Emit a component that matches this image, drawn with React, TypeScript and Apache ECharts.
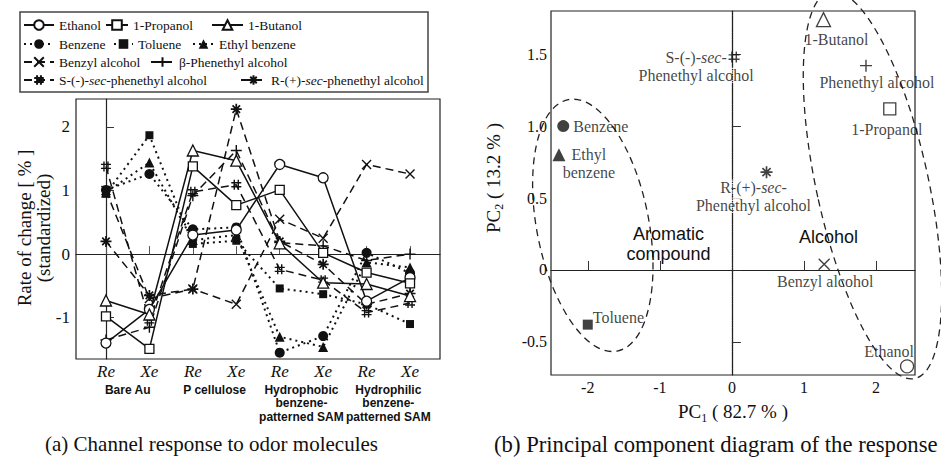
import React, { useEffect, useRef } from 'react';
import * as echarts from 'echarts';

const SERIF = "'Liberation Serif', 'Times New Roman', serif";
const SANS = "'Liberation Sans', Arial, sans-serif";
const INK = '#111';

// ---------- (a) Channel response data ----------
const channelLabels = ['Re', 'Xe', 'Re', 'Xe', 'Re', 'Xe', 'Re', 'Xe'];
const surfaceGroups = [
  'Bare Au',
  'P cellulose',
  'Hydrophobic\nbenzene-\npatterned SAM',
  'Hydrophilic\nbenzene-\npatterned SAM',
];
const rateTicks = [-1, 0, 1, 2];

const ethanol = [-1.4, -0.87, 0.3, 0.38, 1.41, 1.2, -0.74, -0.37];
const propanol = [-0.98, -1.49, 1.38, 0.77, 1.01, 0.02, -0.29, -0.46];
const butanol = [-0.73, -0.95, 1.63, 1.47, 0.17, -0.45, -0.47, -0.66];
const benzene = [1.01, 1.26, 0.39, 0.42, -1.55, -1.29, 0.02, -0.3];
const toluene = [0.95, 1.87, 0.16, 0.21, -0.54, -0.63, -0.79, -1.1];
const ethylBenzene = [0.97, 1.44, 0.22, 0.3, -1.3, -1.46, -0.13, -0.21];
const benzylAlcohol = [1.0, -0.7, -0.55, -0.79, 0.55, 0.25, 1.41, 1.26];
const betaPhenethyl = [-1.35, -1.15, 0.92, 1.63, 0.18, 0.13, -0.1, 0.0];
const sSecPhenethyl = [1.38, -1.05, 0.98, 1.09, -0.24, -0.41, -0.92, -0.77];
const rSecPhenethyl = [0.2, -0.65, -0.55, 2.28, 0.2, -0.16, -0.79, -0.62];

const seriesNames = [
  'Ethanol',
  '1-Propanol',
  '1-Butanol',
  'Benzene',
  'Toluene',
  'Ethyl benzene',
  'Benzyl alcohol',
  'β-Phenethyl alcohol',
  'S-(-)-sec-phenethyl alcohol',
  'R-(+)-sec-phenethyl alcohol',
];
const seriesValues = [
  ethanol,
  propanol,
  butanol,
  benzene,
  toluene,
  ethylBenzene,
  benzylAlcohol,
  betaPhenethyl,
  sSecPhenethyl,
  rSecPhenethyl,
];

// ---------- (b) PCA data ----------
const pcaNames = [
  'Ethanol',
  '1-Propanol',
  '1-Butanol',
  'Benzene',
  'Toluene',
  'Ethyl benzene',
  'Benzyl alcohol',
  'Phenethyl alcohol',
  'S-(-)-sec-Phenethyl alcohol',
  'R-(+)-sec-Phenethyl alcohol',
];
const pc1 = [2.43, 2.19, 1.27, -2.34, -2.0, -2.4, 1.28, 1.86, 0.03, 0.48];
const pc2 = [-0.67, 1.12, 1.74, 1.0, -0.38, 0.8, 0.04, 1.42, 1.48, 0.68];
const pcaLabels = [
  'Ethanol',
  '1-Propanol',
  '1-Butanol',
  'Benzene',
  'Toluene',
  'Ethyl\nbenzene',
  'Benzyl alcohol',
  'Phenethyl alcohol',
  'S-(-)-{i|sec}-\n{w|Phenethyl alcohol}',
  '{w|R-(+)-}{wi|sec}{w|-}\n{w|Phenethyl alcohol}',
];
const pcaTicksX = [-2, -1, 0, 1, 2];
const pcaTicksY = [-0.5, 0, 0.5, 1, 1.5];
const clusterNames = ['Aromatic\ncompound', 'Alcohol'];
const clusterLabelPc1 = [-0.88, 1.34];
const clusterLabelPc2 = [0.18, 0.23];
const clusterCenterPc1 = [-1.93, 1.95];
const clusterCenterPc2 = [0.31, 0.59];

// ---------- styles ----------
const P_X = 'path://M0,0L10,10M10,0L0,10';
const P_PLUS = 'path://M5,0L5,10M0,5L10,5';
const P_HASH = 'path://M3,0L3,10M7,0L7,10M0,3L10,3M0,7L10,7';
const P_STAR = 'path://M5,0L5,10M0,5L10,5M1.6,1.6L8.4,8.4M8.4,1.6L1.6,8.4';

type Look = { symbol: string; size: number; open: boolean; line: string; stroke: boolean };
const looks: Look[] = [
  { symbol: 'circle', size: 10, open: true, line: 'solid', stroke: false },
  { symbol: 'rect', size: 9, open: true, line: 'solid', stroke: false },
  { symbol: 'triangle', size: 11, open: true, line: 'solid', stroke: false },
  { symbol: 'circle', size: 10, open: false, line: 'dotted', stroke: false },
  { symbol: 'rect', size: 8, open: false, line: 'dotted', stroke: false },
  { symbol: 'triangle', size: 10, open: false, line: 'dotted', stroke: false },
  { symbol: P_X, size: 9, open: false, line: 'dashed', stroke: true },
  { symbol: P_PLUS, size: 11, open: false, line: 'dashed', stroke: true },
  { symbol: P_HASH, size: 10, open: false, line: 'dashed', stroke: true },
  { symbol: P_STAR, size: 11, open: false, line: 'dashed', stroke: true },
];
// [left, centerY, iconWidth]
const legendSlots = [
  [23, 24, 30],
  [105, 24, 22],
  [211, 24, 31],
  [23, 43, 30],
  [113, 43, 19],
  [192, 43, 21],
  [23, 61, 30],
  [150, 61, 23],
  [23, 79, 30],
  [240, 79, 25],
];

const pcaLooks: Look[] = [
  { symbol: 'circle', size: 13, open: true, line: '', stroke: false },
  { symbol: 'rect', size: 12, open: true, line: '', stroke: false },
  { symbol: 'triangle', size: 14, open: true, line: '', stroke: false },
  { symbol: 'circle', size: 12, open: false, line: '', stroke: false },
  { symbol: 'rect', size: 10, open: false, line: '', stroke: false },
  { symbol: 'triangle', size: 13, open: false, line: '', stroke: false },
  { symbol: P_X, size: 11, open: false, line: '', stroke: true },
  { symbol: P_PLUS, size: 12, open: false, line: '', stroke: true },
  { symbol: P_HASH, size: 11, open: false, line: '', stroke: true },
  { symbol: P_STAR, size: 12, open: false, line: '', stroke: true },
];
const pcaLabelOffsets = [
  [-18, -15],
  [-3, 21],
  [13, 20],
  [10, 0],
  [5, -7],
  [30, 9],
  [1, 17],
  [11, 17],
  [-38, 9],
  [-13, 24],
];
const pcaLabelAlign = ['center', 'center', 'center', 'left', 'left', 'center', 'center', 'center', 'center', 'center'];

const ellipseRadii = [
  [56, 128],
  [56, 198],
];
const ellipseRotation = [0.192, 0.216];

function markerStyle(l: Look) {
  return {
    color: l.open ? '#fff' : INK,
    borderColor: INK,
    borderWidth: l.open ? 1.3 : l.stroke ? (l.symbol === P_STAR ? 1.7 : 1.4) : 0,
  };
}

function lineType(t: string): any {
  if (t === 'dotted') return [2, 4];
  if (t === 'dashed') return [8, 5];
  return 'solid';
}

const LEGEND_FONT = 13.5;
const richSec = {
  i: { fontFamily: SERIF, fontSize: LEGEND_FONT, fontStyle: 'italic', color: INK },
};

function buildOption(): any {
  const lineSeries = seriesNames.map((name, k) => {
    const l = looks[k];
    return {
      type: 'line',
      name,
      xAxisIndex: 0,
      yAxisIndex: 0,
      data: seriesValues[k].map((v, i) => [i, v]),
      symbol: l.symbol,
      symbolSize: l.size,
      showAllSymbol: true,
      lineStyle: { color: INK, width: l.line === 'dotted' ? 2 : 1.5, type: lineType(l.line) },
      itemStyle: markerStyle(l),
      z: 2 + (l.open ? 1 : 0),
    };
  });

  const legends = seriesNames.map((name, k) => ({
    data: [name],
    left: legendSlots[k][0],
    top: legendSlots[k][1] - 6,
    itemWidth: legendSlots[k][2],
    itemHeight: 12,
    itemGap: 0,
    padding: 0,
    selectedMode: false,
    formatter: (n: string) => n.replace('sec', '{i|sec}'),
    textStyle: { fontFamily: SERIF, fontSize: LEGEND_FONT, color: INK, rich: richSec },
  }));

  const scatter = {
    type: 'scatter',
    xAxisIndex: 2,
    yAxisIndex: 1,
    data: pcaNames.map((name, i) => {
      const l = pcaLooks[i];
      return {
        name,
        value: [pc1[i], pc2[i]],
        symbol: l.symbol,
        symbolSize: l.size,
        itemStyle: markerStyle(l),
        label: {
          show: true,
          position: 'inside',
          offset: pcaLabelOffsets[i],
          align: pcaLabelAlign[i],
          verticalAlign: 'middle',
        },
      };
    }),
    label: {
      show: true,
      formatter: (p: any) => pcaLabels[p.dataIndex],
      fontFamily: SERIF,
      fontSize: 16,
      lineHeight: 18,
      color: INK,
      rich: {
        i: { fontFamily: SERIF, fontSize: 16, fontStyle: 'italic', color: INK, lineHeight: 18 },
        w: { fontFamily: SERIF, fontSize: 16, color: INK, backgroundColor: '#fff', lineHeight: 18 },
        wi: {
          fontFamily: SERIF,
          fontSize: 16,
          fontStyle: 'italic',
          color: INK,
          backgroundColor: '#fff',
          lineHeight: 18,
        },
      },
    },
    markLine: {
      silent: true,
      symbol: ['none', 'none'],
      label: { show: false },
      lineStyle: { type: 'dotted', color: '#222', width: 1.2 },
      data: [{ xAxis: 0 }, { yAxis: 0 }],
    },
    z: 3,
  };

  const axisLineStyle = { show: true, lineStyle: { color: '#222', width: 1.2 } };

  return {
    animation: false,
    backgroundColor: '#fff',
    legend: legends,
    grid: [
      { left: 76, top: 99, width: 364, height: 260, show: true, borderColor: '#222', borderWidth: 1.2 },
      { left: 551, top: 11, width: 364, height: 364, show: true, borderColor: '#222', borderWidth: 1.2 },
    ],
    xAxis: [
      {
        type: 'value',
        gridIndex: 0,
        min: -0.69,
        max: 7.69,
        axisLine: axisLineStyle,
        splitLine: { show: false },
        axisTick: {
          inside: true,
          length: 8,
          customValues: channelLabels.map((_, i) => i),
          lineStyle: { color: '#555' },
        },
        axisLabel: {
          customValues: channelLabels.map((_, i) => i),
          formatter: (v: number) => channelLabels[Math.round(v)],
          fontFamily: SERIF,
          fontStyle: 'italic',
          fontSize: 17,
          color: INK,
          margin: 4,
        },
      },
      {
        type: 'value',
        gridIndex: 0,
        position: 'bottom',
        offset: 16,
        min: -0.69,
        max: 7.69,
        axisLine: { show: false },
        axisTick: { show: false },
        splitLine: { show: false },
        axisLabel: {
          customValues: surfaceGroups.map((_, i) => 2 * i + 0.5),
          formatter: (v: number) => surfaceGroups[Math.round((v - 0.5) / 2)],
          fontFamily: SANS,
          fontWeight: 'bold',
          fontSize: 12,
          lineHeight: 13.5,
          color: INK,
          margin: 8,
          align: 'center',
        },
      },
      {
        type: 'value',
        gridIndex: 1,
        min: -2.51,
        max: 2.54,
        axisLine: axisLineStyle,
        splitLine: { show: false },
        axisTick: { inside: true, length: 9, customValues: pcaTicksX, lineStyle: { color: '#333' } },
        axisLabel: {
          customValues: pcaTicksX,
          formatter: (v: number) => String(v),
          fontFamily: SERIF,
          fontSize: 16,
          color: INK,
          margin: 4,
        },
        name: 'PC{s|1} ( 82.7 % )',
        nameLocation: 'middle',
        nameGap: 24,
        nameTextStyle: {
          fontFamily: SERIF,
          fontSize: 19,
          color: INK,
          lineHeight: 24,
          rich: { s: { fontFamily: SERIF, fontSize: 12, lineHeight: 12, verticalAlign: 'bottom', color: INK } },
        },
      },
    ],
    yAxis: [
      {
        type: 'value',
        gridIndex: 0,
        min: -1.65,
        max: 2.44,
        axisLine: axisLineStyle,
        splitLine: { show: false },
        axisTick: { inside: true, length: 8, customValues: rateTicks, lineStyle: { color: '#333' } },
        axisLabel: {
          customValues: rateTicks,
          formatter: (v: number) => String(v),
          fontFamily: SERIF,
          fontSize: 17,
          color: INK,
          margin: 6,
        },
      },
      {
        type: 'value',
        gridIndex: 1,
        min: -0.73,
        max: 1.8,
        axisLine: axisLineStyle,
        splitLine: { show: false },
        axisTick: { inside: true, length: 9, customValues: pcaTicksY, lineStyle: { color: '#333' } },
        axisLabel: {
          customValues: pcaTicksY,
          formatter: (v: number) => (v === 0 ? '0' : v.toFixed(1)),
          fontFamily: SERIF,
          fontSize: 16,
          color: INK,
          margin: 4,
        },
      },
    ],
    series: [...lineSeries, scatter],
  };
}

export default function App() {
  const ref = useRef<HTMLDivElement>(null);
  useEffect(() => {
    if (!ref.current) return;
    const chart = echarts.init(ref.current, null, { renderer: 'svg' });
    chart.setOption(buildOption());
    const toPx = (x: number, y: number) => chart.convertToPixel({ gridIndex: 1 } as any, [x, y]) as number[];

    const elements: any[] = [
      {
        type: 'rect',
        shape: { x: 20, y: 12, width: 408, height: 80 },
        style: { fill: 'none', stroke: '#444', lineWidth: 1.5 },
        silent: true,
      },
      {
        type: 'text',
        x: 34,
        y: 228,
        rotation: Math.PI / 2,
        style: {
          text: 'Rate of change [ % ]\n(standardized)',
          fontFamily: SERIF,
          fontSize: 19,
          lineHeight: 19,
          fill: INK,
          align: 'center',
          verticalAlign: 'middle',
        },
      },
      {
        type: 'text',
        x: 493,
        y: 178,
        rotation: Math.PI / 2,
        style: {
          text: 'PC{s|2} ( 13.2 % )',
          fontFamily: SERIF,
          fontSize: 19,
          lineHeight: 24,
          fill: INK,
          align: 'center',
          verticalAlign: 'middle',
          rich: { s: { fontFamily: SERIF, fontSize: 12, lineHeight: 12, verticalAlign: 'bottom', fill: INK } },
        },
      },
      {
        type: 'text',
        x: 45,
        y: 444,
        style: {
          text: '(a) Channel response to odor molecules',
          fontFamily: SERIF,
          fontSize: 21,
          fill: INK,
          align: 'left',
          verticalAlign: 'middle',
        },
      },
      {
        type: 'text',
        x: 494,
        y: 444,
        style: {
          text: '(b) Principal component diagram of the response',
          fontFamily: SERIF,
          fontSize: 22.7,
          fill: INK,
          align: 'left',
          verticalAlign: 'middle',
        },
      },
    ];

    clusterNames.forEach((name, k) => {
      const c = toPx(clusterCenterPc1[k], clusterCenterPc2[k]);
      elements.push({
        type: 'ellipse',
        x: c[0],
        y: c[1],
        rotation: ellipseRotation[k],
        shape: { cx: 0, cy: 0, rx: ellipseRadii[k][0], ry: ellipseRadii[k][1] },
        style: { fill: 'none', stroke: '#222', lineWidth: 1.3, lineDash: [7, 5] },
        silent: true,
      });
      const t = toPx(clusterLabelPc1[k], clusterLabelPc2[k]);
      elements.push({
        type: 'text',
        x: t[0],
        y: t[1],
        style: {
          text: name,
          fontFamily: SANS,
          fontSize: 18,
          lineHeight: 20,
          fill: INK,
          align: 'center',
          verticalAlign: 'middle',
        },
      });
    });

    chart.setOption({ graphic: { elements } });
    return () => chart.dispose();
  }, []);

  return (
    <div
      ref={ref}
      style={{ position: 'fixed', left: 0, top: 0, width: 941, height: 458, background: '#fff' }}
    />
  );
}
